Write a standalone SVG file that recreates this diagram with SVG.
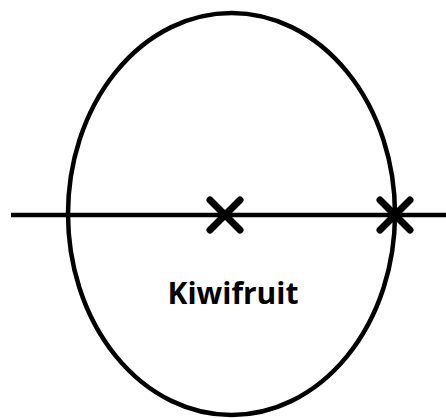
<svg xmlns="http://www.w3.org/2000/svg" width="446" height="418" viewBox="0 0 446 418">
<style>
.s{fill:none;stroke:#000;stroke-width:4.5}
.x{stroke:#000;stroke-width:7;stroke-linecap:round}
.t{font-family:"Open Sans","Liberation Sans",sans-serif;font-weight:bold;font-size:30px;fill:#000}
</style>
<rect width="446" height="418" fill="#fff"/>
<g id="kiwifruit">
<ellipse class="s" cx="231.5" cy="214" rx="163.5" ry="201"/>
<text class="t" x="233" y="304" text-anchor="middle">Kiwifruit</text>
</g>
<g id="connectors">
<line class="s" x1="11" y1="215" x2="446" y2="215" stroke-width="5"/>
</g>
<g id="mark1">
<path class="x" d="M210,200 L240,230 M240,200 L210,230"/>
</g>
<g id="mark2">
<path class="x" d="M380,200 L410,230 M410,200 L380,230"/>
</g>
</svg>
